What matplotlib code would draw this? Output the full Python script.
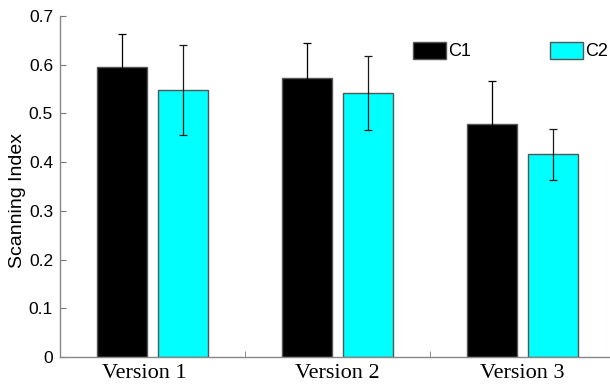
import numpy as np
import matplotlib
matplotlib.use("Agg")
import matplotlib.pyplot as plt
import matplotlib.transforms as mtransforms
from matplotlib.ticker import FixedLocator, NullFormatter

versions = ["Version 1", "Version 2", "Version 3"]
c1_mean = [0.595, 0.573, 0.478]
c1_err = [0.067, 0.072, 0.088]
c2_mean = [0.548, 0.541, 0.416]
c2_err = [0.093, 0.076, 0.053]

plt.rcParams['font.family'] = ['Liberation Sans', 'DejaVu Sans']

fig = plt.figure(figsize=(6.1, 3.89), dpi=100)
ax = fig.add_axes([0.0984, 0.0823, 0.9098, 0.8766])

x = np.arange(1, len(versions) + 1)
w = 0.27
off = 0.165
edge = '#555555'

ax.bar(x - off, c1_mean, w, color='black', edgecolor=edge, linewidth=1, label='C1')
ax.bar(x + off, c2_mean, w, color='#00ffff', edgecolor=edge, linewidth=1, label='C2')
ax.errorbar(x - off, c1_mean, yerr=c1_err, fmt='none', ecolor='black', elinewidth=0.9, capsize=2.8, capthick=0.9)
ax.errorbar(x + off, c2_mean, yerr=c2_err, fmt='none', ecolor='#1a1a1a', elinewidth=0.9, capsize=2.8, capthick=0.9)

ax.set_xlim(0.5, 3.5)
ax.set_ylim(0, 0.7)
ax.set_yticks(np.arange(0, 0.71, 0.1))
ax.set_yticklabels(['0', '0.1', '0.2', '0.3', '0.4', '0.5', '0.6', '0.7'])

# group labels sit between the separator ticks
ax.set_xticks(x)
ax.set_xticklabels(versions, family=['Liberation Serif'], fontsize=16)
ax.tick_params(axis='x', which='major', length=0, pad=5)
ax.xaxis.set_minor_locator(FixedLocator([1.5, 2.5]))
ax.xaxis.set_minor_formatter(NullFormatter())
ax.tick_params(axis='x', which='minor', direction='in', length=4, color='#777777')
ax.tick_params(axis='y', direction='in', length=4, color='#777777', labelsize=12.5, pad=5)

# first label sits a little left of its group
lbl = ax.get_xticklabels()[0]
lbl.set_transform(lbl.get_transform() + mtransforms.ScaledTranslation(-0.08, 0, fig.dpi_scale_trans))

for s in ['top', 'right']:
    ax.spines[s].set_visible(False)
for s in ['left', 'bottom']:
    ax.spines[s].set_color('#888888')
    ax.spines[s].set_linewidth(1)

ax.set_ylabel('Scanning Index', fontsize=14)
ax.yaxis.set_label_coords(-0.061, 0.46)

ax.legend(ncol=2, frameon=False, fontsize=13, loc='upper left',
          bbox_to_anchor=(0.665, 0.911), bbox_transform=fig.transFigure,
          handlelength=1.83, handleheight=1.05, handletextpad=0.1,
          columnspacing=4.4, borderaxespad=0)

fig.savefig('out.png', dpi=100)
